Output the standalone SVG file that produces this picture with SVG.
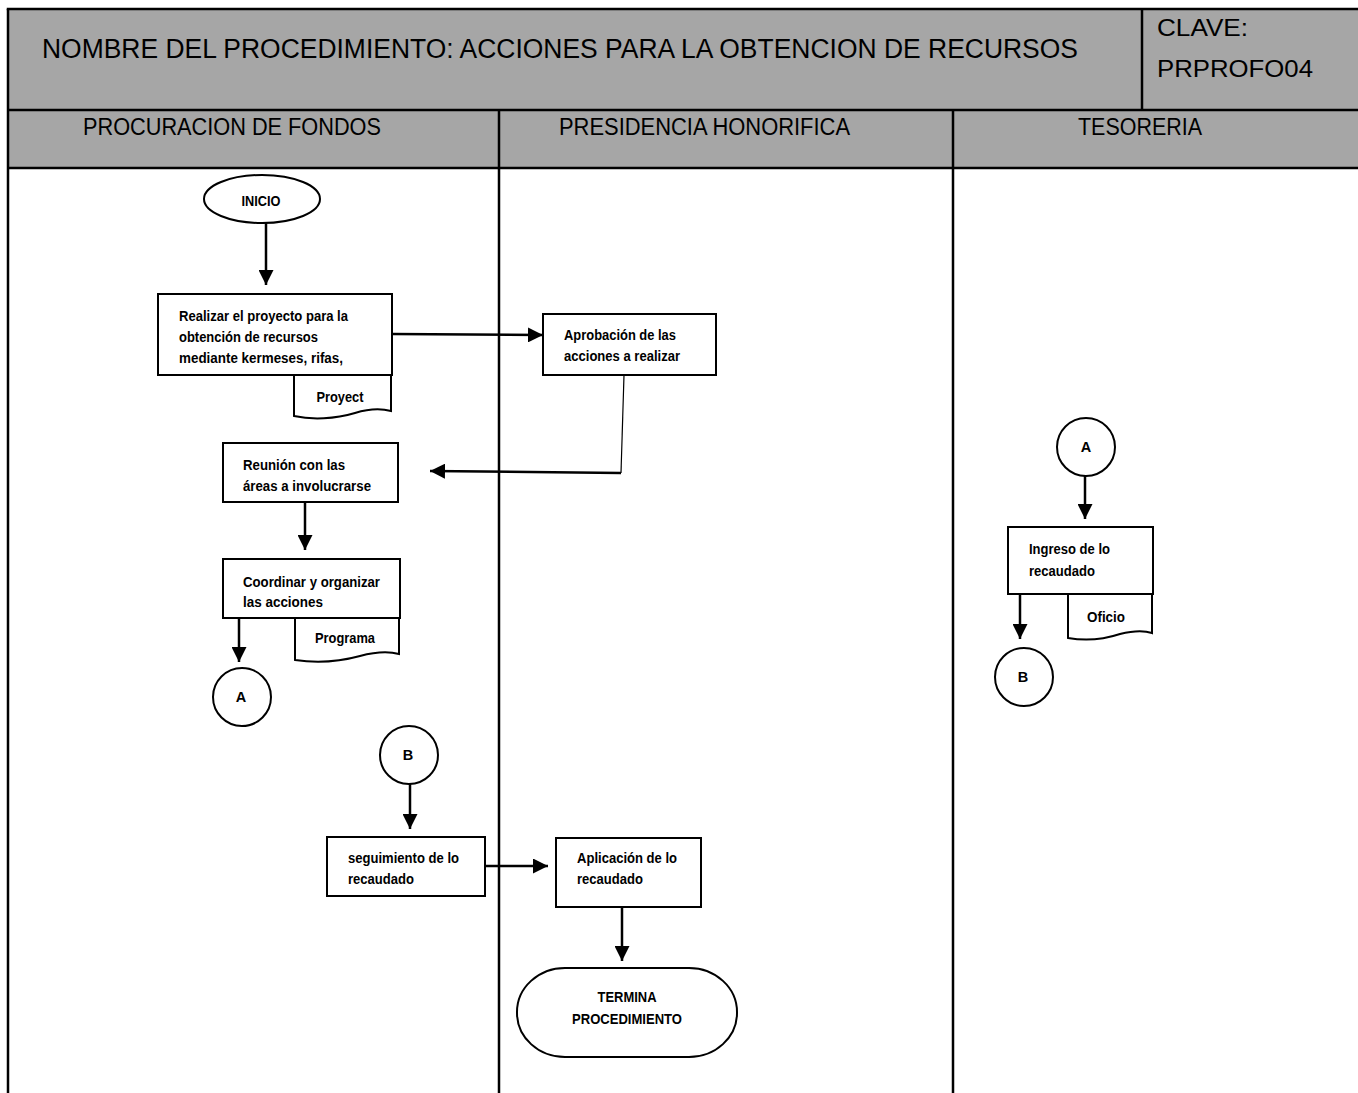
<svg xmlns="http://www.w3.org/2000/svg" width="1358" height="1093" viewBox="0 0 1358 1093">
  <defs>
    <marker id="arrow" markerUnits="userSpaceOnUse" markerWidth="15" markerHeight="15" refX="15" refY="7.5" orient="auto">
      <path d="M0,0 L15,7.5 L0,15 Z" fill="#000"/>
    </marker>
    <style>
      .grid { stroke: #000; stroke-width: 2.5; fill: none; }
      .hdr { fill: #A6A6A6; }
      .title { font-family: "Liberation Sans", Arial, sans-serif; fill: #000; }
      .shape { fill: #fff; stroke: #000; stroke-width: 2; }
      .lbl { font-family: "Liberation Sans", Arial, sans-serif; font-weight: bold; font-size: 14.5px; fill: #000; }
      .mid { text-anchor: middle; }
      .flow { stroke: #000; stroke-width: 2.5; fill: none; marker-end: url(#arrow); }
      .thin { stroke: #000; stroke-width: 1.2; fill: none; }
    </style>
  </defs>

  <rect width="1358" height="1093" fill="#fff"/>

  <!-- header band and lane frame -->
  <g id="frame">
    <rect class="hdr" x="8" y="9" width="1352" height="159"/>
    <line class="grid" x1="6.75" y1="9" x2="1360" y2="9"/>
    <line class="grid" x1="8" y1="9" x2="8" y2="1093"/>
    <line class="grid" x1="8" y1="110" x2="1360" y2="110"/>
    <line class="grid" x1="8" y1="168" x2="1360" y2="168"/>
    <line class="grid" x1="1142" y1="9" x2="1142" y2="110"/>
    <line class="grid" x1="499" y1="110" x2="499" y2="1093"/>
    <line class="grid" x1="953" y1="110" x2="953" y2="1093"/>
    <text class="title" x="42" y="57.5" font-size="27" textLength="1036" lengthAdjust="spacingAndGlyphs">NOMBRE DEL PROCEDIMIENTO: ACCIONES PARA LA OBTENCION DE RECURSOS</text>
    <text class="title" x="1157" y="36" font-size="24" textLength="91" lengthAdjust="spacingAndGlyphs">CLAVE:</text>
    <text class="title" x="1157" y="77" font-size="24" textLength="156" lengthAdjust="spacingAndGlyphs">PRPROFO04</text>
    <text class="title" x="83" y="135" font-size="23" textLength="298" lengthAdjust="spacingAndGlyphs">PROCURACION DE FONDOS</text>
    <text class="title" x="559" y="135" font-size="23" textLength="291" lengthAdjust="spacingAndGlyphs">PRESIDENCIA HONORIFICA</text>
    <text class="title" x="1078" y="135" font-size="23" textLength="124" lengthAdjust="spacingAndGlyphs">TESORERIA</text>
  </g>

  <!-- connectors -->
  <g id="connectors">
    <line class="flow" x1="266" y1="223" x2="266" y2="285"/>
    <line class="flow" x1="392" y1="334" x2="543" y2="335"/>
    <line class="thin" x1="624" y1="375" x2="621" y2="473"/>
    <line class="flow" x1="621" y1="473" x2="430" y2="471"/>
    <line class="flow" x1="305" y1="502" x2="305" y2="550"/>
    <line class="flow" x1="239" y1="618" x2="239" y2="662"/>
    <line class="flow" x1="1085" y1="476" x2="1085" y2="519"/>
    <line class="flow" x1="1020" y1="594" x2="1020" y2="639"/>
    <line class="flow" x1="410" y1="784" x2="410" y2="829"/>
    <line class="flow" x1="485" y1="866" x2="548" y2="866"/>
    <line class="flow" x1="622" y1="907" x2="622" y2="961"/>
  </g>

  <g id="inicio">
    <ellipse class="shape" cx="262" cy="199" rx="58" ry="24"/>
    <text class="lbl mid" x="261" y="206" textLength="39" lengthAdjust="spacingAndGlyphs">INICIO</text>
  </g>

  <g id="realizar-proyecto">
    <rect class="shape" x="158" y="294" width="234" height="81"/>
    <text class="lbl" x="179" y="321" textLength="169" lengthAdjust="spacingAndGlyphs">Realizar el proyecto para la</text>
    <text class="lbl" x="179" y="342" textLength="139" lengthAdjust="spacingAndGlyphs">obtención de recursos</text>
    <text class="lbl" x="179" y="363" textLength="164" lengthAdjust="spacingAndGlyphs">mediante kermeses, rifas,</text>
  </g>

  <g id="doc-proyect">
    <path class="shape" d="M294,375 H391 V411 C380,408 368,409 355,413 C335,419 312,420 294,416 Z"/>
    <text class="lbl mid" x="340" y="402" textLength="47" lengthAdjust="spacingAndGlyphs">Proyect</text>
  </g>

  <g id="aprobacion">
    <rect class="shape" x="543" y="314" width="173" height="61"/>
    <text class="lbl" x="564" y="340" textLength="112" lengthAdjust="spacingAndGlyphs">Aprobación de las</text>
    <text class="lbl" x="564" y="361" textLength="116" lengthAdjust="spacingAndGlyphs">acciones a realizar</text>
  </g>

  <g id="reunion">
    <rect class="shape" x="223" y="443" width="175" height="59"/>
    <text class="lbl" x="243" y="470" textLength="102" lengthAdjust="spacingAndGlyphs">Reunión con las</text>
    <text class="lbl" x="243" y="491" textLength="128" lengthAdjust="spacingAndGlyphs">áreas a involucrarse</text>
  </g>

  <g id="coordinar">
    <rect class="shape" x="223" y="559" width="177" height="59"/>
    <text class="lbl" x="243" y="587" textLength="137" lengthAdjust="spacingAndGlyphs">Coordinar y organizar</text>
    <text class="lbl" x="243" y="607" textLength="80" lengthAdjust="spacingAndGlyphs">las acciones</text>
  </g>

  <g id="doc-programa">
    <path class="shape" d="M295,618 H399 V654 C388,651 375,652 360,656 C338,662 315,663 295,660 Z"/>
    <text class="lbl mid" x="345" y="643" textLength="60" lengthAdjust="spacingAndGlyphs">Programa</text>
  </g>

  <g id="conector-a-salida">
    <circle class="shape" cx="242" cy="697" r="29"/>
    <text class="lbl mid" x="241" y="702">A</text>
  </g>

  <g id="conector-a-entrada">
    <circle class="shape" cx="1086" cy="447" r="29"/>
    <text class="lbl mid" x="1086" y="452">A</text>
  </g>

  <g id="ingreso">
    <rect class="shape" x="1008" y="527" width="145" height="67"/>
    <text class="lbl" x="1029" y="554" textLength="81" lengthAdjust="spacingAndGlyphs">Ingreso de lo</text>
    <text class="lbl" x="1029" y="576" textLength="66" lengthAdjust="spacingAndGlyphs">recaudado</text>
  </g>

  <g id="doc-oficio">
    <path class="shape" d="M1068,594 H1152 V633 C1143,630 1132,631 1120,634 C1102,640 1085,641 1068,638 Z"/>
    <text class="lbl mid" x="1106" y="622" textLength="38" lengthAdjust="spacingAndGlyphs">Oficio</text>
  </g>

  <g id="conector-b-salida">
    <circle class="shape" cx="1024" cy="677" r="29"/>
    <text class="lbl mid" x="1023" y="682">B</text>
  </g>

  <g id="conector-b-entrada">
    <circle class="shape" cx="409" cy="755" r="29"/>
    <text class="lbl mid" x="408" y="760">B</text>
  </g>

  <g id="seguimiento">
    <rect class="shape" x="327" y="837" width="158" height="59"/>
    <text class="lbl" x="348" y="863" textLength="111" lengthAdjust="spacingAndGlyphs">seguimiento de lo</text>
    <text class="lbl" x="348" y="884" textLength="66" lengthAdjust="spacingAndGlyphs">recaudado</text>
  </g>

  <g id="aplicacion">
    <rect class="shape" x="556" y="838" width="145" height="69"/>
    <text class="lbl" x="577" y="863" textLength="100" lengthAdjust="spacingAndGlyphs">Aplicación de lo</text>
    <text class="lbl" x="577" y="884" textLength="66" lengthAdjust="spacingAndGlyphs">recaudado</text>
  </g>

  <g id="termina">
    <rect class="shape" x="517" y="968" width="220" height="89" rx="48" ry="44"/>
    <text class="lbl mid" x="627" y="1002" textLength="59" lengthAdjust="spacingAndGlyphs">TERMINA</text>
    <text class="lbl mid" x="627" y="1024" textLength="110" lengthAdjust="spacingAndGlyphs">PROCEDIMIENTO</text>
  </g>
</svg>
